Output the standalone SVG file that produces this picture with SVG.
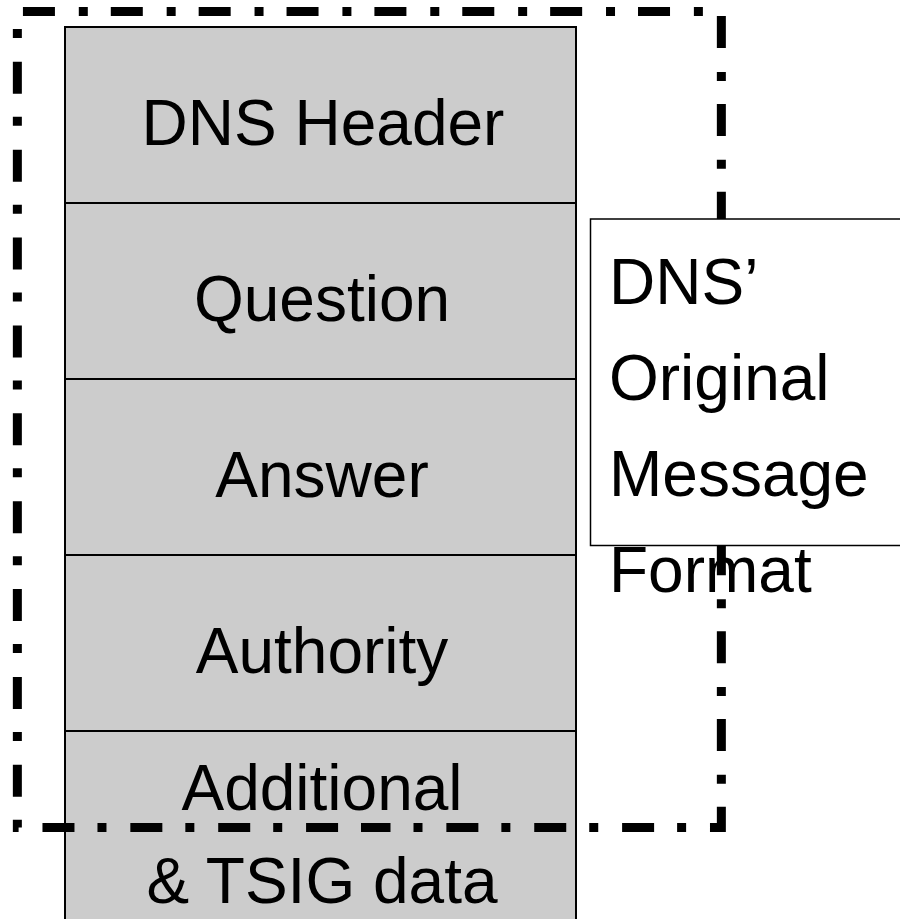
<svg xmlns="http://www.w3.org/2000/svg" width="900" height="919" viewBox="0 0 900 919">
  <style>
    .field rect { fill: #cccccc; stroke: #000000; stroke-width: 2; }
    .label { font-family: "Liberation Sans", Arial, Helvetica, sans-serif; font-size: 64px; fill: #000000; }
    .center { text-anchor: middle; }
    .scope { fill: none; stroke: #000000; stroke-width: 9; stroke-dasharray: 32 23 9 23.87; stroke-dashoffset: 2.5; stroke-linejoin: miter; stroke-linecap: butt; }
    .note rect { fill: #ffffff; stroke: #000000; stroke-width: 1.5; }
  </style>
  <rect x="0" y="0" width="900" height="919" fill="#ffffff"/>

  <!-- message sections, stacked -->
  <g id="header" class="field">
    <rect x="65" y="27" width="511" height="176"/>
    <text class="label center" x="323" y="145">DNS Header</text>
  </g>
  <g id="question" class="field">
    <rect x="65" y="203" width="511" height="176"/>
    <text class="label center" x="322" y="321">Question</text>
  </g>
  <g id="answer" class="field">
    <rect x="65" y="379" width="511" height="176"/>
    <text class="label center" x="322" y="497">Answer</text>
  </g>
  <g id="authority" class="field">
    <rect x="65" y="555" width="511" height="176"/>
    <text class="label center" x="322" y="673">Authority</text>
  </g>
  <g id="additional" class="field">
    <rect x="65" y="731" width="511" height="210"/>
    <text class="label center" x="322" y="810">Additional</text>
    <text class="label center" x="322" y="903">&amp; TSIG data</text>
  </g>

  <!-- dash-dot outline around the original message part -->
  <g id="connectors">
    <path class="scope" d="M361,827.5 H721.35 V11.5 H17.35 V827.5 Z"/>
  </g>

  <!-- caption box -->
  <g id="caption" class="note">
    <rect x="590.5" y="219" width="320" height="326.5"/>
    <text class="label" x="609" y="304">DNS’</text>
    <text class="label" x="609" y="400">Original</text>
    <text class="label" x="609" y="496">Message</text>
    <text class="label" x="609" y="592">Format</text>
  </g>
</svg>
